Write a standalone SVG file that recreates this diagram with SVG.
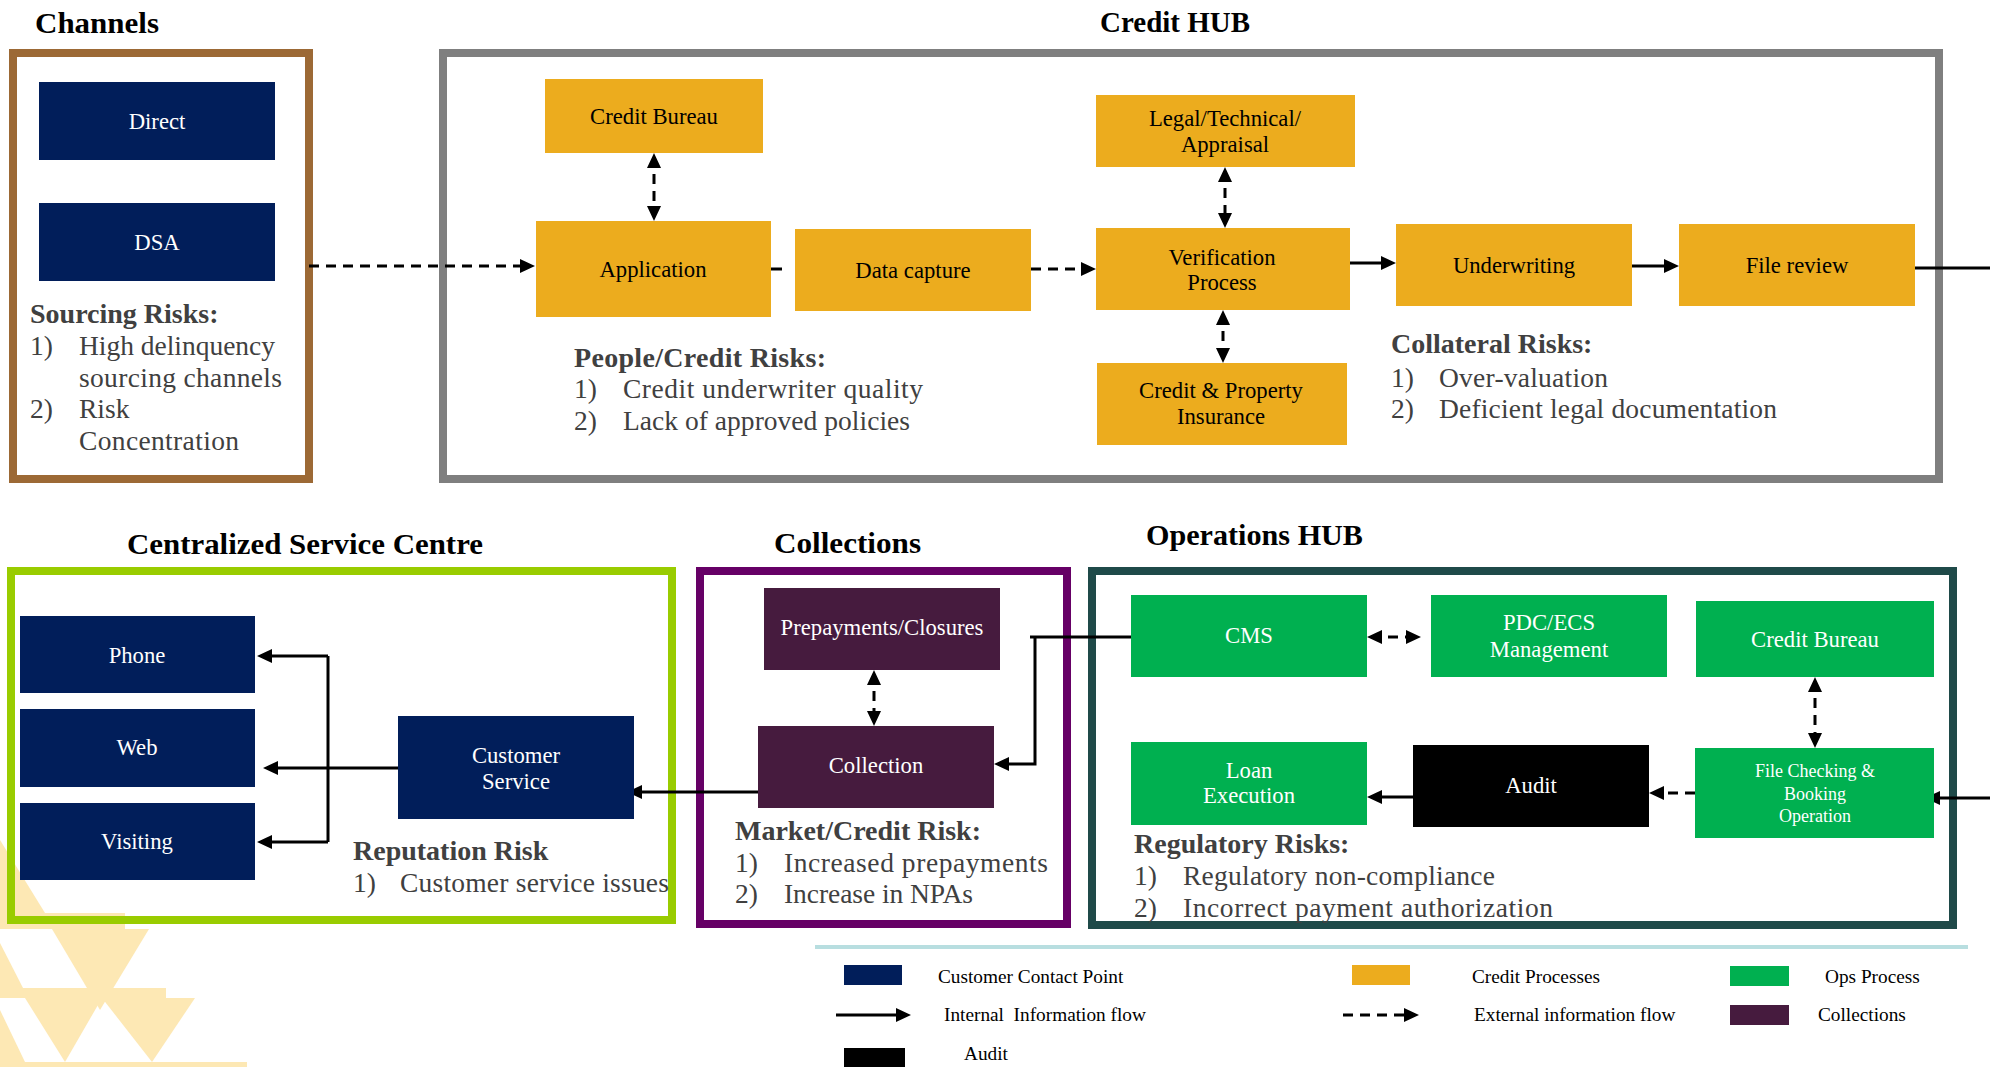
<svg xmlns="http://www.w3.org/2000/svg" width="1990" height="1067" viewBox="0 0 1990 1067">
  <style>
    text { font-family: "Liberation Serif", "Times New Roman", serif; }
    .ttl { font-size: 30px; font-weight: bold; fill: #000; }
    .nt { font-size: 22.7px; text-anchor: middle; }
    .sm { font-size: 18px; }
    .w { fill: #fff; }
    .k { fill: #000; }
    .rh { font-size: 28px; font-weight: bold; fill: #404040; }
    .ri { font-size: 27.5px; fill: #404040; }
    .lg { font-size: 19.3px; fill: #000; white-space: pre; }
    .frame { fill: none; stroke-width: 8; }
    .navy { fill: #011E5A; }
    .gold { fill: #ECAC1E; }
    .green { fill: #00B050; }
    .plum { fill: #461B3E; }
    .blk { fill: #000; }
    .ln { fill: none; stroke: #000; stroke-width: 3; }
    .dash { stroke-dasharray: 10 7; }
    .wm { fill: #FDE8B4; }
  </style>
  <defs>
    <marker id="ah" viewBox="0 0 15 14" refX="11" refY="7" markerWidth="15" markerHeight="14" markerUnits="userSpaceOnUse" orient="auto-start-reverse">
      <path d="M0,0 L15,7 L0,14 Z" fill="#000"/>
    </marker>
  </defs>

  <!-- pale watermark triangles, bottom left -->
  <g id="watermark">
    <polygon class="wm" points="0,840 45,913 0,913"/>
    <rect class="wm" x="0" y="913" width="125" height="16"/>
    <polygon class="wm" points="52,929 149,929 100,1010"/>
    <polygon class="wm" points="0,943 23,988 0,988"/>
    <rect class="wm" x="0" y="988" width="166" height="10"/>
    <polygon class="wm" points="25,998 102,998 65,1062"/>
    <polygon class="wm" points="102,998 195,998 152,1062"/>
    <polygon class="wm" points="0,1010 25,1062 0,1062"/>
    <rect class="wm" x="0" y="1062" width="247" height="5"/>
  </g>

  <!-- section frames, titles and risk notes -->
  <g id="channels">
    <text class="ttl" x="35" y="33" textLength="124" lengthAdjust="spacingAndGlyphs">Channels</text>
    <rect class="frame" x="13" y="53" width="296" height="426" stroke="#9C6935"/>
    <text class="rh" x="30" y="323">Sourcing Risks:</text>
    <text class="ri" x="30" y="355">1)</text>
    <text class="ri" x="79" y="355" textLength="196">High delinquency</text>
    <text class="ri" x="79" y="387" textLength="203">sourcing channels</text>
    <text class="ri" x="30" y="418">2)</text>
    <text class="ri" x="79" y="418">Risk</text>
    <text class="ri" x="79" y="450" textLength="160">Concentration</text>
  </g>
  <g id="credit-hub">
    <text class="ttl" x="1100" y="32" textLength="150" lengthAdjust="spacingAndGlyphs">Credit HUB</text>
    <rect class="frame" x="443" y="53" width="1496" height="426" stroke="#7F7F7F"/>
    <text class="rh" x="574" y="367" textLength="252">People/Credit Risks:</text>
    <text class="ri" x="574" y="398">1)</text>
    <text class="ri" x="623" y="398" textLength="300">Credit underwriter quality</text>
    <text class="ri" x="574" y="430">2)</text>
    <text class="ri" x="623" y="430" textLength="287">Lack of approved policies</text>
    <text class="rh" x="1391" y="353">Collateral Risks:</text>
    <text class="ri" x="1391" y="387">1)</text>
    <text class="ri" x="1439" y="387" textLength="169">Over-valuation</text>
    <text class="ri" x="1391" y="418">2)</text>
    <text class="ri" x="1439" y="418" textLength="338">Deficient legal documentation</text>
  </g>
  <g id="service-centre">
    <text class="ttl" x="127" y="554" textLength="356" lengthAdjust="spacingAndGlyphs">Centralized Service Centre</text>
    <rect class="frame" x="11" y="571" width="661" height="349" stroke="#99CC00"/>
    <text class="rh" x="353" y="860">Reputation Risk</text>
    <text class="ri" x="353" y="892">1)</text>
    <text class="ri" x="400" y="892" textLength="269">Customer service issues</text>
  </g>
  <g id="collections">
    <text class="ttl" x="774" y="553" textLength="147" lengthAdjust="spacingAndGlyphs">Collections</text>
    <rect class="frame" x="700" y="571" width="367" height="353" stroke="#660066"/>
    <text class="rh" x="735" y="840">Market/Credit Risk:</text>
    <text class="ri" x="735" y="872">1)</text>
    <text class="ri" x="784" y="872" textLength="264">Increased prepayments</text>
    <text class="ri" x="735" y="903">2)</text>
    <text class="ri" x="784" y="903" textLength="189">Increase in NPAs</text>
  </g>
  <g id="operations-hub">
    <text class="ttl" x="1146" y="545" textLength="217" lengthAdjust="spacingAndGlyphs">Operations HUB</text>
    <rect class="frame" x="1092" y="571" width="861" height="354" stroke="#1F4A49"/>
    <text class="rh" x="1134" y="853">Regulatory Risks:</text>
    <text class="ri" x="1134" y="885">1)</text>
    <text class="ri" x="1183" y="885" textLength="312">Regulatory non-compliance</text>
    <text class="ri" x="1134" y="917">2)</text>
    <text class="ri" x="1183" y="917" textLength="370">Incorrect payment authorization</text>
  </g>

  <!-- connectors -->
  <g id="connectors">
    <path class="ln dash" d="M309,266 H531" marker-end="url(#ah)"/>
    <path class="ln dash" d="M654,157 V217" marker-start="url(#ah)" marker-end="url(#ah)"/>
    <path class="ln" d="M771,269 H782"/>
    <path class="ln dash" d="M1031,269 H1092" marker-end="url(#ah)"/>
    <path class="ln dash" d="M1225,171 V224" marker-start="url(#ah)" marker-end="url(#ah)"/>
    <path class="ln dash" d="M1223,314 V359" marker-start="url(#ah)" marker-end="url(#ah)"/>
    <path class="ln" d="M1350,263 H1392" marker-end="url(#ah)"/>
    <path class="ln" d="M1632,266 H1675" marker-end="url(#ah)"/>
    <path class="ln" d="M1915,268 H1990"/>
    <path class="ln" d="M1990,798 H1929" marker-end="url(#ah)"/>
    <path class="ln dash" d="M1695,793 H1653" marker-end="url(#ah)"/>
    <path class="ln" d="M1413,797 H1371" marker-end="url(#ah)"/>
    <path class="ln dash" d="M1371,637 H1417" marker-start="url(#ah)" marker-end="url(#ah)"/>
    <path class="ln dash" d="M1815,681 V744" marker-start="url(#ah)" marker-end="url(#ah)"/>
    <path class="ln" d="M1131,637 H1030 M1035,637 V764 H998" marker-end="url(#ah)"/>
    <path class="ln dash" d="M874,674 V722" marker-start="url(#ah)" marker-end="url(#ah)"/>
    <path class="ln" d="M762,792 H631" marker-end="url(#ah)"/>
    <path class="ln" d="M403,768 H267" marker-end="url(#ah)"/>
    <path class="ln" d="M328,656 V842"/>
    <path class="ln" d="M328,656 H261" marker-end="url(#ah)"/>
    <path class="ln" d="M328,842 H261" marker-end="url(#ah)"/>
  </g>

  <!-- nodes: channels -->
  <g id="n-direct"><rect class="navy" x="39" y="82" width="236" height="78"/><text class="nt w" x="157" y="129">Direct</text></g>
  <g id="n-dsa"><rect class="navy" x="39" y="203" width="236" height="78"/><text class="nt w" x="157" y="250">DSA</text></g>

  <!-- nodes: credit hub -->
  <g id="n-credit-bureau"><rect class="gold" x="545" y="79" width="218" height="74"/><text class="nt k" x="654" y="124">Credit Bureau</text></g>
  <g id="n-application"><rect class="gold" x="536" y="221" width="235" height="96"/><text class="nt k" x="653" y="277">Application</text></g>
  <g id="n-data-capture"><rect class="gold" x="795" y="229" width="236" height="82"/><text class="nt k" x="913" y="278">Data capture</text></g>
  <g id="n-legal"><rect class="gold" x="1096" y="95" width="259" height="72"/><text class="nt k" x="1225" y="126">Legal/Technical/</text><text class="nt k" x="1225" y="152">Appraisal</text></g>
  <g id="n-verification"><rect class="gold" x="1096" y="228" width="254" height="82"/><text class="nt k" x="1222" y="265">Verification</text><text class="nt k" x="1222" y="290">Process</text></g>
  <g id="n-insurance"><rect class="gold" x="1097" y="363" width="250" height="82"/><text class="nt k" x="1221" y="398">Credit &amp; Property</text><text class="nt k" x="1221" y="424">Insurance</text></g>
  <g id="n-underwriting"><rect class="gold" x="1396" y="224" width="236" height="82"/><text class="nt k" x="1514" y="273">Underwriting</text></g>
  <g id="n-file-review"><rect class="gold" x="1679" y="224" width="236" height="82"/><text class="nt k" x="1797" y="273">File review</text></g>

  <!-- nodes: service centre -->
  <g id="n-phone"><rect class="navy" x="20" y="616" width="235" height="77"/><text class="nt w" x="137" y="663">Phone</text></g>
  <g id="n-web"><rect class="navy" x="20" y="709" width="235" height="78"/><text class="nt w" x="137" y="755">Web</text></g>
  <g id="n-visiting"><rect class="navy" x="20" y="803" width="235" height="77"/><text class="nt w" x="137" y="849">Visiting</text></g>
  <g id="n-customer-service"><rect class="navy" x="398" y="716" width="236" height="103"/><text class="nt w" x="516" y="763">Customer</text><text class="nt w" x="516" y="789">Service</text></g>

  <!-- nodes: collections -->
  <g id="n-prepayments"><rect class="plum" x="764" y="588" width="236" height="82"/><text class="nt w" x="882" y="635">Prepayments/Closures</text></g>
  <g id="n-collection"><rect class="plum" x="758" y="726" width="236" height="82"/><text class="nt w" x="876" y="773">Collection</text></g>

  <!-- nodes: operations hub -->
  <g id="n-cms"><rect class="green" x="1131" y="595" width="236" height="82"/><text class="nt w" x="1249" y="643">CMS</text></g>
  <g id="n-pdc"><rect class="green" x="1431" y="595" width="236" height="82"/><text class="nt w" x="1549" y="630">PDC/ECS</text><text class="nt w" x="1549" y="657">Management</text></g>
  <g id="n-ops-bureau"><rect class="green" x="1696" y="601" width="238" height="76"/><text class="nt w" x="1815" y="647">Credit Bureau</text></g>
  <g id="n-loan"><rect class="green" x="1131" y="742" width="236" height="83"/><text class="nt w" x="1249" y="778">Loan</text><text class="nt w" x="1249" y="803">Execution</text></g>
  <g id="n-audit"><rect class="blk" x="1413" y="745" width="236" height="82"/><text class="nt w" x="1531" y="793">Audit</text></g>
  <g id="n-file-checking"><rect class="green" x="1695" y="748" width="239" height="90"/><text class="nt sm w" x="1815" y="777">File Checking &amp;</text><text class="nt sm w" x="1815" y="800">Booking</text><text class="nt sm w" x="1815" y="822">Operation</text></g>

  <!-- legend -->
  <g id="legend">
    <line x1="815" y1="947" x2="1968" y2="947" stroke="#B8DEE0" stroke-width="4"/>
    <rect class="navy" x="844" y="965" width="58" height="20"/>
    <text class="lg" x="938" y="983">Customer Contact Point</text>
    <rect class="gold" x="1352" y="965" width="58" height="20"/>
    <text class="lg" x="1472" y="983">Credit Processes</text>
    <rect class="green" x="1730" y="966" width="59" height="20"/>
    <text class="lg" x="1825" y="983">Ops Process</text>
    <path class="ln" d="M836,1015 H907" marker-end="url(#ah)"/>
    <text class="lg" x="944" y="1021">Internal  Information flow</text>
    <path class="ln dash" d="M1343,1015 H1415" marker-end="url(#ah)"/>
    <text class="lg" x="1474" y="1021">External information flow</text>
    <rect class="plum" x="1730" y="1005" width="59" height="20"/>
    <text class="lg" x="1818" y="1021">Collections</text>
    <rect class="blk" x="844" y="1048" width="61" height="19"/>
    <text class="lg" x="964" y="1060">Audit</text>
  </g>
</svg>
